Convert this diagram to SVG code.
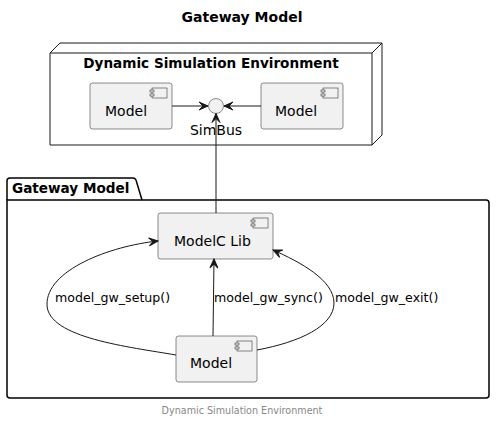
<svg xmlns="http://www.w3.org/2000/svg" width="496" height="422" viewBox="0 0 496 422">
<defs>
<style>
text{font-family:"DejaVu Sans","Liberation Sans",sans-serif;fill:#000}
.b{font-weight:bold;font-size:13.6px}
.h{font-weight:bold;font-size:14px}
.t{font-size:14px}
.l{font-size:12.6px}
.f{font-size:9.6px;fill:#888888}
.comp{fill:#F1F1F1;stroke:#181818;stroke-width:0.5}
.ic{fill:#F1F1F1;stroke:#181818;stroke-width:0.5}
.edge{fill:none;stroke:#181818;stroke-width:1}
</style>
<marker id="ah" viewBox="-10 -5 11 10" refX="0" refY="0" markerWidth="11" markerHeight="10" markerUnits="userSpaceOnUse" orient="auto">
<path d="M0,0 L-9,-4 L-5,0 L-9,4 Z" fill="#181818" stroke="#181818" stroke-width="1"/>
</marker>
</defs>
<rect width="496" height="422" fill="#FFFFFF"/>
<text class="h" x="242" y="22" text-anchor="middle">Gateway Model</text>

<g id="dynamic-simulation-environment">
<path d="M50,53 L60,43 L382,43 L382,135 L372,145 L50,145 Z" fill="#FFFFFF" stroke="#181818" stroke-width="1"/>
<path d="M372,53 L382,43 M50,53 L372,53 M372,53 L372,145" fill="none" stroke="#181818" stroke-width="1"/>
<text class="b" x="211" y="68" text-anchor="middle">Dynamic Simulation Environment</text>
</g>

<g id="gateway-model">
<path d="M7,200 V181 Q7,178 10,178 H133 Q135,178 136,180 L142,200" fill="none" stroke="#000000" stroke-width="1.5"/>
<path d="M7,200 H486 Q489,200 489,203 V395 Q489,398 486,398 H10 Q7,398 7,395 Z" fill="none" stroke="#000000" stroke-width="1.5"/>
<text class="b" x="12" y="193">Gateway Model</text>
</g>

<g id="model-left">
<rect class="comp" x="90" y="83" width="82" height="46" rx="2.5"/>
<rect class="ic" x="152" y="88" width="15" height="10"/>
<rect class="ic" x="150" y="90" width="4" height="2"/>
<rect class="ic" x="150" y="94" width="4" height="2"/>
<text class="t" x="105" y="116">Model</text>
</g>

<g id="model-right">
<rect class="comp" x="261" y="83" width="82" height="46" rx="2.5"/>
<rect class="ic" x="323" y="88" width="15" height="10"/>
<rect class="ic" x="321" y="90" width="4" height="2"/>
<rect class="ic" x="321" y="94" width="4" height="2"/>
<text class="t" x="275" y="116">Model</text>
</g>

<g id="simbus">
<circle cx="216" cy="106" r="7.5" fill="#F1F1F1" stroke="#181818" stroke-width="0.5"/>
<text class="t" x="216" y="135" text-anchor="middle">SimBus</text>
</g>

<g id="modelc-lib">
<rect class="comp" x="158" y="213" width="115" height="46" rx="2.5"/>
<rect class="ic" x="253" y="218" width="15" height="10"/>
<rect class="ic" x="251" y="220" width="4" height="2"/>
<rect class="ic" x="251" y="224" width="4" height="2"/>
<text class="t" x="174" y="246">ModelC Lib</text>
</g>

<g id="model-gw">
<rect class="comp" x="176" y="336" width="81" height="46" rx="2.5"/>
<rect class="ic" x="237" y="341" width="15" height="10"/>
<rect class="ic" x="235" y="343" width="4" height="2"/>
<rect class="ic" x="235" y="347" width="4" height="2"/>
<text class="t" x="190" y="368">Model</text>
</g>

<g id="connectors">
<path class="edge" d="M172,106 L208,106" marker-end="url(#ah)"/>
<path class="edge" d="M261,106 L224,106" marker-end="url(#ah)"/>
<path class="edge" d="M216,213 L216,113.5" marker-end="url(#ah)"/>
<path class="edge" d="M176,355 C130,347 48,338 47,305 C46,270 110,246 158,241" marker-end="url(#ah)"/>
<path class="edge" d="M213,336 L214,259" marker-end="url(#ah)"/>
<path class="edge" d="M257,350 C300,342 334,326 334,303 C334,280 300,262 273,250" marker-end="url(#ah)"/>
<text class="l" x="55" y="302">model_gw_setup()</text>
<text class="l" x="214" y="302">model_gw_sync()</text>
<text class="l" x="335" y="302">model_gw_exit()</text>
</g>

<text class="f" x="242" y="414" text-anchor="middle">Dynamic Simulation Environment</text>
</svg>
